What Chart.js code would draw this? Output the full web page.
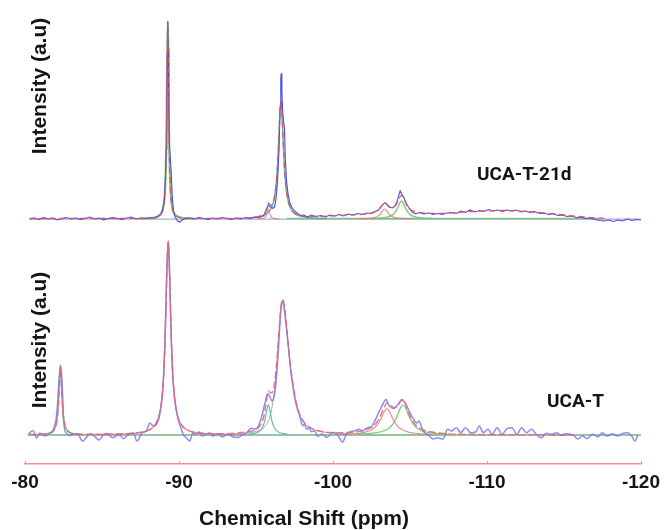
<!DOCTYPE html>
<html>
<head>
<meta charset="utf-8">
<title>29Si NMR spectra</title>
<script src="https://cdn.jsdelivr.net/npm/chart.js@4/dist/chart.umd.min.js"></script>
<style>
  html, body { margin: 0; padding: 0; background: #ffffff; }
  #wrap { width: 667px; height: 530px; }
</style>
</head>
<body>
<div id="wrap"><canvas id="nmr" width="667" height="530"></canvas></div>
<script>
// Chemical shift axis ticks (ppm)
const shiftTicks = [-80, -90, -100, -110, -120];

// ---- UCA-T-21d: measured spectrum, fit and components ([ppm, intensity]) ----
const expTop = [[-80.3,0],[-80.6,1],[-80.9,-0.5],[-81.2,1.5],[-81.5,0],[-81.8,1],[-82.1,-1],[-82.4,0.5],[-82.7,1.5],[-83.0,0],[-83.3,1],[-83.6,-0.5],[-83.9,0.5],[-84.2,2],[-84.5,0],[-84.8,1],[-85.1,-1],[-85.4,0.5],[-85.7,1.5],[-86.0,0.5],[-86.3,-0.5],[-86.6,1],[-86.9,2],[-87.2,0],[-87.5,1],[-87.8,0.5],[-88.1,1.5],[-88.4,1],[-88.6,2.5],[-88.8,4.5],[-88.95,10],[-89.05,20],[-89.12,40],[-89.17,70],[-89.21,120],[-89.24,165],[-89.27,197],[-89.3,170],[-89.34,110],[-89.38,72],[-89.43,62],[-89.5,45],[-89.56,22],[-89.64,8],[-89.75,2],[-89.9,-2],[-90.05,-3],[-90.2,-1],[-90.4,0.5],[-90.7,1],[-91.0,0],[-91.3,1.5],[-91.6,0.5],[-91.9,-0.5],[-92.2,1],[-92.5,0],[-92.8,1.5],[-93.1,0.5],[-93.4,-0.5],[-93.7,1],[-94.0,0],[-94.3,1.5],[-94.6,0.5],[-94.9,2],[-95.2,1.5],[-95.45,3],[-95.6,6],[-95.7,10],[-95.8,14],[-95.9,12],[-96.0,12],[-96.1,10.5],[-96.2,12],[-96.3,20],[-96.4,38],[-96.5,70],[-96.56,110],[-96.61,140],[-96.64,145],[-96.68,128],[-96.73,108],[-96.79,97],[-96.85,90],[-96.9,62],[-96.98,38],[-97.08,25],[-97.2,16],[-97.35,11],[-97.5,8],[-97.7,5.5],[-97.9,3.5],[-98.1,4],[-98.35,2],[-98.6,4],[-98.9,2.5],[-99.2,3.5],[-99.5,2],[-99.8,4],[-100.1,3],[-100.4,4.5],[-100.7,3],[-101.0,5],[-101.3,4],[-101.6,5.5],[-101.9,4.5],[-102.2,6],[-102.5,5.5],[-102.75,7.5],[-102.95,9],[-103.1,12],[-103.25,14.5],[-103.38,16.5],[-103.5,14.5],[-103.65,12],[-103.85,11],[-104.0,12.5],[-104.15,17],[-104.28,24],[-104.36,28],[-104.45,25],[-104.58,22],[-104.75,16],[-104.95,10.5],[-105.15,7],[-105.35,5],[-105.6,6.5],[-105.9,5],[-106.2,6],[-106.5,4.5],[-106.8,5.5],[-107.1,4.5],[-107.4,6],[-107.7,6.5],[-108.0,5.5],[-108.3,8],[-108.6,6.5],[-108.9,9],[-109.2,7],[-109.5,8.5],[-109.8,7.5],[-110.1,9.5],[-110.4,8],[-110.7,9],[-111.0,7.5],[-111.3,9],[-111.6,8],[-111.9,9],[-112.2,7],[-112.5,8],[-112.8,6.5],[-113.1,7.5],[-113.4,5.5],[-113.7,6],[-114.0,4.5],[-114.3,5.5],[-114.6,3.5],[-114.9,4],[-115.2,2.5],[-115.5,3],[-115.8,1.5],[-116.1,2],[-116.4,0.5],[-116.7,1],[-117.0,-0.5],[-117.3,-1.5],[-117.6,-2],[-117.9,-1],[-118.2,-2.5],[-118.5,-1],[-118.8,-2],[-119.1,0],[-119.4,-1.5],[-119.7,-0.5],[-120.0,-1]];

const fitTop = [[-80.3,0.5],[-84,0.6],[-87,0.7],[-88.0,0.9],[-88.5,1.6],[-88.8,4.5],[-88.97,10.5],[-89.07,23],[-89.12,39],[-89.16,62],[-89.195,98],[-89.23,153],[-89.27,196],[-89.31,153],[-89.345,98],[-89.38,62],[-89.42,39],[-89.47,23],[-89.57,10.5],[-89.74,4.5],[-90.04,1.6],[-90.6,0.8],[-92,0.6],[-94,0.8],[-94.5,1.2],[-95.0,2.0],[-95.4,3.9],[-95.6,7.0],[-95.7,11.2],[-95.8,16],[-95.9,14.3],[-96.0,13.7],[-96.1,16.4],[-96.2,22.4],[-96.3,33.4],[-96.4,53.3],[-96.5,86],[-96.56,107],[-96.62,117],[-96.68,107],[-96.74,86],[-96.84,53],[-96.94,33],[-97.04,21.6],[-97.14,15],[-97.24,11],[-97.44,6.6],[-97.7,4],[-98.0,3],[-98.5,2.5],[-99,2.6],[-100,3.1],[-101,4],[-102,4.8],[-102.4,5.9],[-102.8,7.6],[-103.0,9.75],[-103.2,13.9],[-103.35,16.4],[-103.5,14.6],[-103.7,11.7],[-103.9,11.6],[-104.1,14.4],[-104.3,20.6],[-104.45,23.6],[-104.6,20.3],[-104.8,13.6],[-105.0,9.85],[-105.3,7.5],[-105.7,6.4],[-106.2,5.7],[-107,5.6],[-108,6.5],[-109,7.5],[-110,8],[-111,8.5],[-112,8],[-113,7],[-114,5.5],[-115,4],[-116,2.5],[-117,1.2],[-117.9,0.5]];

const q4Top = [[-87.5,0.4],[-88.3,1.2],[-88.8,4.5],[-88.97,10.5],[-89.07,23],[-89.12,39],[-89.16,62],[-89.195,98],[-89.23,153],[-89.27,196],[-89.31,153],[-89.345,98],[-89.38,62],[-89.42,39],[-89.47,23],[-89.57,10.5],[-89.74,4.5],[-90.24,1.2],[-91.0,0.4]];
const q2aTop = [[-95.1,0.2],[-95.4,0.6],[-95.6,2],[-95.7,5],[-95.8,10],[-95.9,5],[-96.0,2],[-96.2,0.6],[-96.5,0.2]];
const q2bTop = [[-94.6,1],[-95.3,2.6],[-95.7,5.3],[-96.0,11],[-96.2,21.6],[-96.32,36],[-96.42,58.5],[-96.52,94],[-96.62,117],[-96.72,94],[-96.82,58.5],[-96.92,36],[-97.02,23.4],[-97.22,11.7],[-97.52,5.4],[-97.92,2.7],[-98.6,1.1],[-99.6,0.5]];
const q3aTop = [[-101.6,0.3],[-102.05,0.45],[-102.45,0.9],[-102.75,1.8],[-102.95,3.3],[-103.07,5],[-103.15,6.6],[-103.25,8.9],[-103.35,10],[-103.45,8.9],[-103.55,6.6],[-103.63,5],[-103.75,3.3],[-103.95,1.8],[-104.25,0.9],[-104.65,0.45],[-105.1,0.3]];
const q3bTop = [[-102.45,0.45],[-103.15,1],[-103.55,2],[-103.8,3.5],[-104.0,6],[-104.13,9],[-104.25,12.9],[-104.35,16.4],[-104.45,18],[-104.55,16.4],[-104.65,12.9],[-104.77,9],[-104.9,6],[-105.1,3.5],[-105.35,2],[-105.75,1],[-106.45,0.45]];
const baseTop = [[-80.3,0],[-120,0]];
const broadTop = [[-97,0.6],[-117.5,0.6]];

// ---- UCA-T: measured spectrum, fit and components ([ppm, intensity]) ----
const expBot = [[-80.2,0],[-80.35,3],[-80.53,4.4],[-80.75,-3],[-80.96,2],[-81.28,-1],[-81.6,2],[-81.8,4],[-82.0,14],[-82.1,28],[-82.2,52],[-82.3,69],[-82.41,52],[-82.5,16],[-82.67,2],[-82.9,-0.5],[-83.1,0.5],[-83.4,1.5],[-83.74,-6],[-84.06,-1],[-84.27,1.4],[-84.5,-1],[-84.8,-5],[-85.1,0.5],[-85.3,1.5],[-85.7,-2.7],[-86.1,0.5],[-86.4,-3.6],[-86.7,0.5],[-87.05,2],[-87.26,-6],[-87.6,2],[-87.9,4.6],[-88.1,12],[-88.33,9],[-88.5,10],[-88.76,21],[-88.97,50],[-89.1,100],[-89.2,160],[-89.3,193],[-89.4,155],[-89.5,95],[-89.6,58],[-89.72,36],[-89.94,16],[-90.15,6],[-90.3,0],[-90.47,-2.7],[-90.7,-6],[-90.9,2],[-91.1,1],[-91.3,3],[-91.5,-1],[-91.75,0.5],[-92.0,2],[-92.2,-1],[-92.5,1.4],[-92.8,-2],[-93.14,1],[-93.46,-1.5],[-93.78,-2.5],[-94.1,0],[-94.42,2.7],[-94.68,6.7],[-94.96,6],[-95.17,9.4],[-95.38,19],[-95.6,33],[-95.77,41],[-95.88,39],[-96.03,34],[-96.14,36],[-96.3,53],[-96.46,86],[-96.6,122],[-96.73,134],[-96.8,129],[-96.94,112],[-97.1,89],[-97.24,66],[-97.42,46],[-97.63,29],[-97.84,19],[-97.95,12],[-98.06,9.4],[-98.15,11],[-98.27,6],[-98.45,7],[-98.6,3.4],[-98.8,4.4],[-99.0,-1.4],[-99.3,1],[-99.6,-2.4],[-99.98,2.7],[-100.3,0],[-100.62,-7],[-100.88,1],[-101.15,3.4],[-101.47,4.4],[-101.7,5.7],[-101.9,4],[-102.1,6],[-102.37,7.7],[-102.5,8.3],[-102.65,12],[-102.93,21],[-103.18,29],[-103.44,35.4],[-103.5,34],[-103.65,29],[-103.93,26.5],[-104.25,31],[-104.47,35.5],[-104.68,32],[-105.0,22.3],[-105.3,14],[-105.45,12],[-105.58,14],[-105.85,4],[-106.2,0],[-106.5,-4],[-106.8,-2.7],[-107.13,-4],[-107.45,5.7],[-107.7,4],[-108.0,7.3],[-108.3,2.3],[-108.6,7.3],[-108.95,2.3],[-109.27,3],[-109.5,9],[-109.76,2.3],[-110.06,5.7],[-110.34,0.7],[-110.66,7.3],[-110.98,0.7],[-111.3,6.3],[-111.62,7.3],[-111.94,0.7],[-112.25,7.3],[-112.57,2.3],[-112.9,5.7],[-113.2,0.7],[-113.53,-2.7],[-113.85,1.7],[-114.17,0.7],[-114.5,2.3],[-114.8,0],[-115.1,1.3],[-115.6,0],[-115.9,-4],[-116.2,-1],[-116.5,-3.6],[-116.86,0.7],[-117.2,-1.6],[-117.5,2.3],[-117.8,-1],[-118.14,1.3],[-118.46,-1],[-118.8,1.7],[-119.1,2.3],[-119.4,-1],[-119.6,-6],[-119.8,0]];

const fitBot = [[-80.3,0.5],[-81.3,1],[-81.7,2.3],[-81.9,5.1],[-82.0,9.1],[-82.1,17.6],[-82.18,33],[-82.24,52],[-82.3,66],[-82.36,52],[-82.42,33],[-82.5,17.6],[-82.6,9.1],[-82.7,5.1],[-82.9,2.3],[-83.3,1],[-84.3,0.8],[-85.3,1],[-86.3,1.3],[-87.3,2.4],[-88.0,4.8],[-88.5,11.4],[-88.75,22.5],[-88.9,38.6],[-89.0,59],[-89.1,96.5],[-89.15,124],[-89.2,154],[-89.25,181],[-89.3,193],[-89.35,181],[-89.4,154],[-89.45,124],[-89.5,96.5],[-89.6,59],[-89.7,38.6],[-89.85,22.5],[-90.1,11.6],[-90.6,4.8],[-91.3,2.3],[-92.3,1.4],[-93.3,1.5],[-94.0,2.5],[-94.5,3.3],[-95.0,5.7],[-95.3,10.2],[-95.5,18],[-95.65,31],[-95.8,44],[-95.95,42],[-96.1,43.5],[-96.2,51],[-96.33,70],[-96.43,90],[-96.53,111],[-96.63,129],[-96.73,135],[-96.83,130],[-96.93,117],[-97.03,101],[-97.13,84],[-97.23,70],[-97.33,58],[-97.48,43],[-97.63,31],[-97.83,21],[-98.13,12.6],[-98.53,7.5],[-99.13,4],[-99.93,2.4],[-100.5,2.3],[-101.0,2.6],[-101.5,3.2],[-102.0,4.5],[-102.5,7.6],[-102.8,11.7],[-103.0,16.4],[-103.2,23.3],[-103.35,28.8],[-103.5,32],[-103.65,31.5],[-103.8,28.8],[-104.0,27],[-104.2,29],[-104.4,34],[-104.55,35],[-104.7,31.5],[-104.9,23],[-105.1,15.9],[-105.35,10.2],[-105.6,7.1],[-106.0,4.4],[-106.6,2.6],[-107.5,1.2],[-109,0.6],[-112,0.2],[-115.6,0.1]];

const q1Bot = [[-80.8,0.4],[-81.3,1],[-81.7,2.7],[-81.9,5.8],[-82.0,9.7],[-82.1,18.5],[-82.18,35],[-82.24,56],[-82.3,70],[-82.36,56],[-82.42,35],[-82.5,18.5],[-82.6,9.7],[-82.7,5.8],[-82.9,2.7],[-83.3,1],[-83.8,0.4]];
const q2Bot = [[-84.3,0.3],[-86.3,0.85],[-87.3,1.9],[-88.0,4.5],[-88.5,11.4],[-88.75,22.5],[-88.9,38.6],[-89.0,59],[-89.1,96.5],[-89.15,124],[-89.2,154],[-89.25,181],[-89.3,193],[-89.35,181],[-89.4,154],[-89.45,124],[-89.5,96.5],[-89.6,59],[-89.7,38.6],[-89.85,22.5],[-90.1,11.4],[-90.6,4.5],[-91.3,1.9],[-92.3,0.85],[-94.3,0.3]];
const q3aBot = [[-94.5,0.8],[-94.9,1.7],[-95.15,3.1],[-95.35,5.8],[-95.5,10.5],[-95.6,16.4],[-95.7,24.9],[-95.8,30],[-95.9,24.9],[-96.0,16.4],[-96.1,10.5],[-96.25,5.8],[-96.45,3.1],[-96.7,1.7],[-97.1,0.8]];
const q3bBot = [[-93.5,1.1],[-94.33,1.9],[-94.93,3.3],[-95.33,5.5],[-95.63,9.5],[-95.83,15],[-95.98,23],[-96.13,36],[-96.23,48],[-96.33,65],[-96.43,86],[-96.53,108],[-96.63,126],[-96.73,133],[-96.83,128],[-96.93,115],[-97.03,99],[-97.13,83],[-97.23,69],[-97.33,57],[-97.48,42],[-97.63,30],[-97.83,20],[-98.13,12],[-98.53,7],[-99.13,3.8],[-99.93,2],[-101.23,1]];
const q4aBot = [[-100.5,0.7],[-101.5,1.5],[-102.1,2.9],[-102.5,5.2],[-102.75,8],[-103.0,13],[-103.2,19.1],[-103.35,23.9],[-103.5,26],[-103.65,23.9],[-103.8,19.1],[-104.0,13],[-104.25,8],[-104.5,5.2],[-104.9,2.9],[-105.5,1.5],[-106.5,0.7]];
const q4bBot = [[-101.55,0.8],[-102.55,1.8],[-103.15,3.4],[-103.55,6],[-103.8,9.2],[-104.05,15],[-104.25,22],[-104.4,27.5],[-104.55,30],[-104.7,27.5],[-104.85,22],[-105.05,15],[-105.3,9.2],[-105.55,6],[-105.95,3.4],[-106.55,1.8],[-107.55,0.8]];
const baseBot = [[-80.2,0],[-120,0]];

// Vertical offset that stacks the aged sample above the fresh one
const stackOffset = 215;

function trace(points, offset, style, order) {
  return Object.assign({
    data: points.map(([x, y]) => ({ x: x, y: y + offset })),
    pointRadius: 0,
    borderWidth: 1.2,
    fill: false,
    cubicInterpolationMode: 'monotone',
    order: order
  }, style);
}

const BLUE_T = 'rgba(64,64,228,0.95)';
const BLUE_B = 'rgba(120,120,240,0.85)';
const RED_T = 'rgba(228,80,80,0.95)';
const RED_B = 'rgba(238,100,115,0.9)';
const GREEN = 'rgba(110,195,110,0.85)';
const TEAL = 'rgba(70,175,160,0.85)';
const PINK = 'rgba(225,120,120,0.8)';
const GREY = 'rgba(150,150,150,0.8)';
const LAV = 'rgba(160,160,215,0.9)';
const AXIS = 'rgba(240,130,130,0.9)';

const datasets = [
  // fits (dashed, on top)
  trace(fitTop, stackOffset, { borderColor: RED_T, borderWidth: 1.3, borderDash: [6, 4] }, 0),
  trace(fitBot, 0, { borderColor: RED_B, borderWidth: 1.4, borderDash: [7, 3] }, 0),
  // measured spectra (the aged one drawn with straight segments: fine-grained noise)
  trace(expTop, stackOffset, { borderColor: BLUE_T, borderWidth: 1.1, cubicInterpolationMode: 'default', tension: 0 }, 1),
  trace(expBot, 0, { borderColor: BLUE_B, borderWidth: 1.5 }, 1),
  // fitted components, aged sample
  trace(q4Top, stackOffset, { borderColor: GREEN, borderWidth: 2.2 }, 2),
  trace(q2aTop, stackOffset, { borderColor: PINK }, 2),
  trace(q2bTop, stackOffset, { borderColor: TEAL, borderWidth: 1.5 }, 2),
  trace(q3aTop, stackOffset, { borderColor: PINK }, 2),
  trace(q3bTop, stackOffset, { borderColor: GREEN, borderWidth: 1.5 }, 2),
  trace(broadTop, stackOffset, { borderColor: GREEN, borderWidth: 1.5 }, 3),
  trace(baseTop, stackOffset, { borderColor: LAV, borderWidth: 1.3 }, 4),
  // fitted components, fresh sample
  trace(q1Bot, 0, { borderColor: GREEN, borderWidth: 1.6 }, 2),
  trace(q2Bot, 0, { borderColor: PINK }, 2),
  trace(q3aBot, 0, { borderColor: TEAL }, 2),
  trace(q3bBot, 0, { borderColor: GREY, borderWidth: 1 }, 2),
  trace(q4aBot, 0, { borderColor: PINK }, 2),
  trace(q4bBot, 0, { borderColor: GREEN, borderWidth: 1.4 }, 2),
  trace(baseBot, 0, { borderColor: 'rgba(100,170,120,0.9)', borderWidth: 1.6 }, 4)
];

const TEXT = '#141414';
const SANS = '"Liberation Sans", Arial, sans-serif';

// Axis titles, sample names and inward tick marks
const decorations = {
  id: 'decorations',
  afterDraw(chart) {
    const { ctx, chartArea, scales } = chart;
    const x = scales.x;
    ctx.save();
    ctx.strokeStyle = AXIS;
    ctx.lineWidth = 1;
    shiftTicks.forEach(v => {
      const px = Math.round(x.getPixelForValue(v)) + 0.5;
      ctx.beginPath();
      ctx.moveTo(px, chartArea.bottom);
      ctx.lineTo(px, chartArea.bottom - 3);
      ctx.stroke();
    });

    ctx.fillStyle = TEXT;
    ctx.font = 'bold 21px ' + SANS;
    ctx.textAlign = 'center';
    ctx.textBaseline = 'middle';
    [86, 340].forEach(cy => {
      ctx.save();
      ctx.translate(40, cy);
      ctx.rotate(-Math.PI / 2);
      ctx.fillText('Intensity (a.u)', 0, 0);
      ctx.restore();
    });

    ctx.fillText('Chemical Shift (ppm)', 304, 519);

    ctx.font = 'bold 19px Roboto, ' + SANS;
    ctx.textAlign = 'left';
    ctx.fillText('UCA-T-21d', 477, 175);
    ctx.fillText('UCA-T', 547, 402);
    ctx.restore();
  }
};

new Chart(document.getElementById('nmr'), {
  type: 'line',
  data: { datasets: datasets },
  options: {
    responsive: false,
    animation: false,
    devicePixelRatio: 1,
    layout: { padding: { left: 25, right: 18, top: 5, bottom: 29 } },
    plugins: { legend: { display: false }, tooltip: { enabled: false } },
    scales: {
      x: {
        type: 'linear',
        reverse: true,
        min: -120,
        max: -80,
        grid: { display: false, drawTicks: false },
        border: { display: true, color: AXIS, width: 1.5 },
        ticks: {
          stepSize: 10,
          padding: 7,
          maxRotation: 0,
          color: TEXT,
          font: { family: SANS, size: 19, weight: 'bold' }
        }
      },
      y: {
        type: 'linear',
        display: false,
        min: -29,
        max: 428
      }
    }
  },
  plugins: [decorations]
});
</script>
</body>
</html>
